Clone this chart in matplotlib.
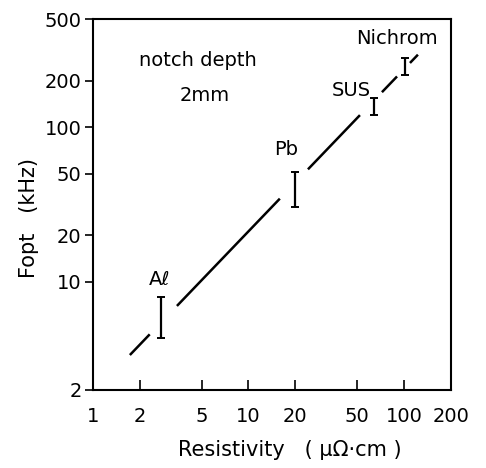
import numpy as np
import matplotlib
matplotlib.use('Agg')
import matplotlib.pyplot as plt
from matplotlib.ticker import FixedLocator, NullLocator, FixedFormatter

# measured Fopt ranges per material
materials = ['Aℓ', 'Pb', 'SUS', 'Nichrom']
resistivity = [2.74, 20.0, 64.0, 101.0]
f_low = [4.3, 30.5, 120.0, 217.0]
f_high = [8.0, 51.5, 154.0, 280.0]

# fitted line Fopt = a * rho^b, drawn in pieces (gaps around labels)
fit_a = 1.89
fit_b = 1.05
seg_start = [1.73, 3.47, 24.1, 72.0, 109.0]
seg_end = [2.32, 15.9, 52.0, 90.0, 122.6]

xticks = [1, 2, 5, 10, 20, 50, 100, 200]
xticklabels = ['1', '2', '5', '10', '20', '50', '100', '200']
yticks = [2, 10, 20, 50, 100, 200, 500]
yticklabels = ['2', '10', '20', '50', '100', '200', '500']

plt.rcParams['font.family'] = ['DejaVu Sans']
fig = plt.figure(figsize=(4.86, 4.68), dpi=100)
ax = fig.add_axes([0.191, 0.167, 0.737, 0.792])
ax.set_xscale('log')
ax.set_yscale('log')
ax.set_xlim(1, 200)
ax.set_ylim(2, 500)

for s, e in zip(seg_start, seg_end):
    xs = np.array([s, e])
    ax.plot(xs, fit_a * xs ** fit_b, color='black', lw=1.8, solid_capstyle='butt')

for x, lo, hi in zip(resistivity, f_low, f_high):
    mid = (lo * hi) ** 0.5
    ax.errorbar([x], [mid], yerr=[[mid - lo], [hi - mid]],
                fmt='none', ecolor='black', elinewidth=1.6, capsize=2.8, capthick=1.4)

# material labels
ax.text(2.7, 10.4, materials[0], fontsize=14, ha='center', va='center')
ax.text(17.5, 72, materials[1], fontsize=14, ha='center', va='center')
ax.text(46, 174, materials[2], fontsize=14, ha='center', va='center')
ax.text(90, 377, materials[3], fontsize=14, ha='center', va='center')
ax.text(4.73, 272, 'notch depth', fontsize=14, ha='center', va='center')
ax.text(5.25, 161, '2mm', fontsize=14, ha='center', va='center')

ax.xaxis.set_major_locator(FixedLocator(xticks))
ax.xaxis.set_major_formatter(FixedFormatter(xticklabels))
ax.xaxis.set_minor_locator(NullLocator())
ax.yaxis.set_major_locator(FixedLocator(yticks))
ax.yaxis.set_major_formatter(FixedFormatter(yticklabels))
ax.yaxis.set_minor_locator(NullLocator())
ax.tick_params(axis='x', direction='in', length=7, width=1.2, labelsize=14, pad=12)
ax.tick_params(axis='y', direction='out', length=6, width=1.2, labelsize=14, pad=2)

for sp in ax.spines.values():
    sp.set_linewidth(1.5)

ax.set_xlabel('Resistivity   ( μΩ·cm )', fontsize=15)
ax.set_ylabel('Fopt   (kHz)', fontsize=15)
ax.xaxis.set_label_coords(0.55, -0.135)
ax.yaxis.set_label_coords(-0.15, 0.464)

fig.savefig('out.png', dpi=100)
